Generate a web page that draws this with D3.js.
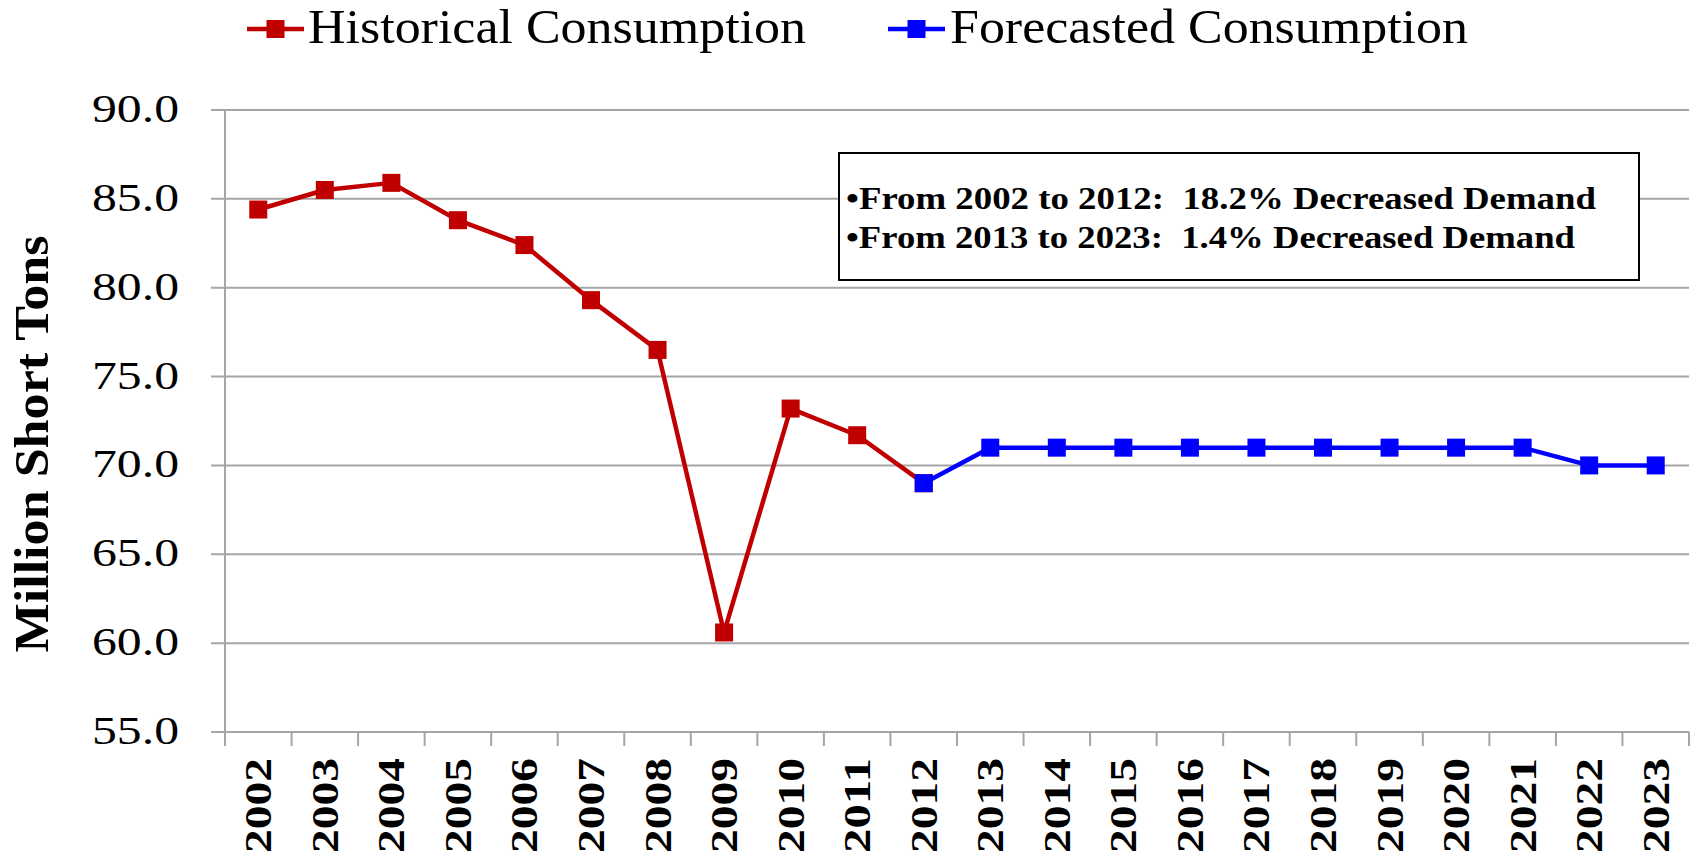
<!DOCTYPE html>
<html><head><meta charset="utf-8">
<script src="https://cdn.jsdelivr.net/npm/d3@7"></script>
<style>body{margin:0;background:#fff;} svg{display:block;}</style>
</head><body>
<script>
const years = ["2002","2003","2004","2005","2006","2007","2008","2009","2010","2011","2012","2013","2014","2015","2016","2017","2018","2019","2020","2021","2022","2023"];
const historicalYears = ["2002","2003","2004","2005","2006","2007","2008","2009","2010","2011","2012"];
const historicalValues = [84.4,85.5,85.9,83.8,82.4,79.3,76.5,60.6,73.2,71.7,69.0];
const forecastYears = ["2012","2013","2014","2015","2016","2017","2018","2019","2020","2021","2022","2023"];
const forecastValues = [69.0,71.0,71.0,71.0,71.0,71.0,71.0,71.0,71.0,71.0,70.0,70.0];
const yTicks = [55,60,65,70,75,80,85,90];
const seriesNames = ["Historical Consumption","Forecasted Consumption"];
const noteLines = ["•From 2002 to 2012:  18.2% Decreased Demand","•From 2013 to 2023:  1.4% Decreased Demand"];

const W=1698,H=862;
const m={left:225,right:1689,top:110,bottom:732};
const svg=d3.select("body").append("svg").attr("width",W).attr("height",H);
const x=d3.scaleBand().domain(years).range([m.left,m.right]).padding(0);
const y=d3.scaleLinear().domain([55,90]).range([m.bottom,m.top]);
const grid="#a6a6a6";
const serif="'Liberation Serif','DejaVu Serif',serif";

// gridlines
svg.append("g").selectAll("line").data(yTicks).join("line")
  .attr("x1",m.left-14).attr("x2",m.right).attr("y1",d=>y(d)).attr("y2",d=>y(d))
  .attr("stroke",grid).attr("stroke-width",2);
// y axis line
svg.append("line").attr("x1",m.left).attr("x2",m.left).attr("y1",m.top).attr("y2",m.bottom+14).attr("stroke",grid).attr("stroke-width",2);
// x ticks
const xt=years.map(d=>x(d)).concat([m.right]);
svg.append("g").selectAll("line").data(xt).join("line")
  .attr("x1",d=>d).attr("x2",d=>d).attr("y1",m.bottom).attr("y2",m.bottom+14)
  .attr("stroke",grid).attr("stroke-width",2);

// y labels
svg.append("g").selectAll("text").data(yTicks).join("text")
  .attr("x",179).attr("y",d=>y(d)+12).attr("text-anchor","end")
  .attr("font-family",serif).attr("font-size",40)
  .attr("textLength",87).attr("lengthAdjust","spacingAndGlyphs")
  .text(d=>d.toFixed(1));
// x labels
svg.append("g").selectAll("text").data(years).join("text")
  .attr("transform",d=>`translate(${x(d)+x.bandwidth()/2+13},758) rotate(-90)`)
  .attr("text-anchor","end").attr("font-family",serif).attr("font-size",38).attr("font-weight","bold")
  .attr("textLength",95).attr("lengthAdjust","spacingAndGlyphs")
  .text(d=>d);
// y title
svg.append("text").attr("transform","translate(48,444) rotate(-90)").attr("text-anchor","middle")
  .attr("font-family",serif).attr("font-size",48).attr("font-weight","bold")
  .attr("textLength",417).attr("lengthAdjust","spacingAndGlyphs").text("Million Short Tons");

const cx=d=>x(d)+x.bandwidth()/2;
function series(ys,vs,color){
  const pts=ys.map((d,i)=>[cx(d),y(vs[i])]);
  svg.append("path").attr("d",d3.line()(pts)).attr("fill","none").attr("stroke",color).attr("stroke-width",4.5).attr("stroke-linejoin","round");
  svg.append("g").selectAll("rect").data(pts).join("rect")
    .attr("x",p=>p[0]-9).attr("y",p=>p[1]-9).attr("width",18).attr("height",18).attr("fill",color);
}
series(historicalYears,historicalValues,"#C00000");
series(forecastYears,forecastValues,"#0000FF");

// legend
const leg=[{name:seriesNames[0],color:"#C00000",x0:247,tx:308,tw:498},{name:seriesNames[1],color:"#0000FF",x0:888,tx:950,tw:518}];
leg.forEach(l=>{
  svg.append("line").attr("x1",l.x0).attr("x2",l.x0+57).attr("y1",29).attr("y2",29).attr("stroke",l.color).attr("stroke-width",4.5);
  svg.append("rect").attr("x",l.x0+28.5-9).attr("y",20).attr("width",18).attr("height",18).attr("fill",l.color);
  svg.append("text").attr("x",l.tx).attr("y",43).attr("font-family",serif).attr("font-size",48)
    .attr("textLength",l.tw).attr("lengthAdjust","spacingAndGlyphs").text(l.name);
});

// note box
svg.append("rect").attr("x",839).attr("y",153).attr("width",800).attr("height",127).attr("fill","#fff").attr("stroke","#000").attr("stroke-width",2);
const noteW=[750,729];
svg.append("g").selectAll("text").data(noteLines).join("text")
  .attr("x",846).attr("y",(d,i)=>209+i*39).attr("font-family",serif).attr("font-size",32).attr("font-weight","bold")
  .attr("textLength",(d,i)=>noteW[i]).attr("lengthAdjust","spacingAndGlyphs")
  .attr("xml:space","preserve").style("white-space","pre")
  .text(d=>d);
</script>
</body></html>
